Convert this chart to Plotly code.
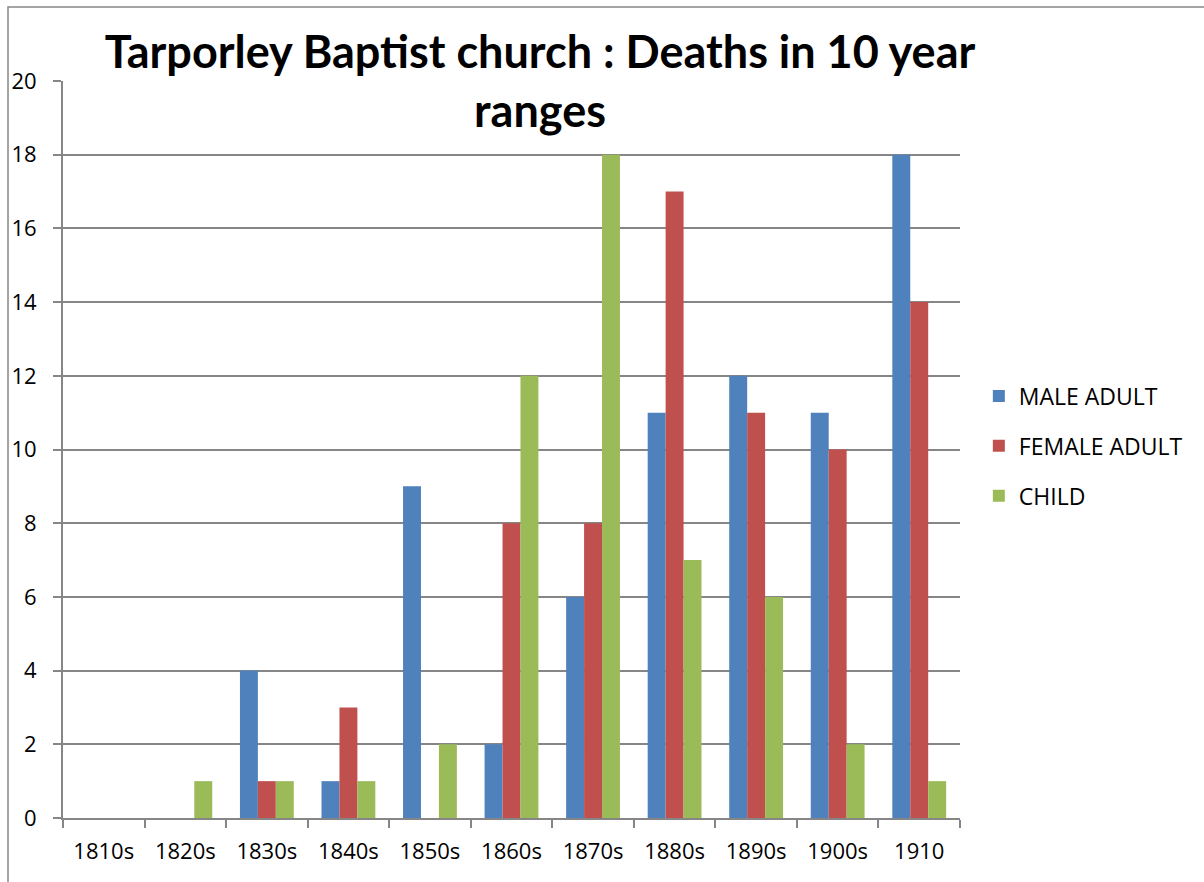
import plotly.graph_objects as go

categories = ["1810s", "1820s", "1830s", "1840s", "1850s", "1860s", "1870s", "1880s", "1890s", "1900s", "1910"]
male_adult = [0, 0, 4, 1, 9, 2, 6, 11, 12, 11, 18]
female_adult = [0, 0, 1, 3, 0, 8, 8, 17, 11, 10, 14]
child = [0, 1, 1, 1, 2, 12, 18, 7, 6, 2, 1]

series = [
    ("MALE ADULT", male_adult, "#4F81BD"),
    ("FEMALE ADULT", female_adult, "#C0504D"),
    ("CHILD", child, "#9BBB59"),
]

W, H = 1204, 882
L, R, T, B = 63, 960, 81, 818

fig = go.Figure()
for i, (name, vals, col) in enumerate(series):
    fig.add_trace(go.Bar(x=categories, y=vals, name=name, marker_color=col,
                         marker_line_width=0, legendgroup=str(i)))

font = "Open Sans"
fig.update_layout(
    width=W, height=H,
    margin=dict(l=L, r=W - R, t=T, b=H - B, pad=0, autoexpand=False),
    paper_bgcolor="white", plot_bgcolor="white",
    barmode="group", bargap=0.34, bargroupgap=0,
    font=dict(family=font, size=22, color="black"),
    title=dict(text="<b>Tarporley Baptist church : Deaths in 10 year<br>ranges</b>",
               x=540 / W, xanchor="center", xref="container",
               y=1 - 68 / H, yanchor="top", yref="container",
               font=dict(family="Lato", size=45, color="black")),
    legend=dict(x=1.021, xanchor="left", y=(B - 446) / (B - T), yanchor="middle",
                font=dict(family=font, size=23), tracegroupgap=17,
                bgcolor="rgba(0,0,0,0)"),
    showlegend=True,
)
fig.update_xaxes(type="category", showline=True, linecolor="#868686", linewidth=2,
                 ticks="outside", ticklen=8, tickcolor="#868686", tickwidth=2,
                 tickson="boundaries", showgrid=False, ticklabelstandoff=13,
                 automargin=False)
fig.update_yaxes(range=[0, 20], dtick=2, showline=True, linecolor="#868686", linewidth=2,
                 ticks="outside", ticklen=8, tickcolor="#868686", tickwidth=2,
                 showgrid=True, gridcolor="#868686", gridwidth=2, zeroline=False,
                 ticklabelstandoff=12, automargin=False)
# outer chart frame
fig.add_shape(type="rect", xref="paper", yref="paper",
              x0=(8 - L) / (R - L), x1=(W + 20 - L) / (R - L),
              y0=(B - (H + 20)) / (B - T), y1=(B - 7) / (B - T),
              line=dict(color="#868686", width=1.5), fillcolor="rgba(0,0,0,0)", layer="below")

fig.write_html("out.html")
